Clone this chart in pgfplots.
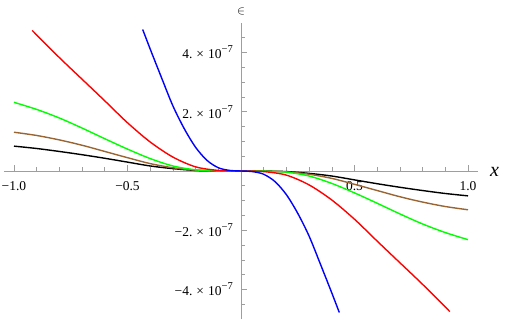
\documentclass[border=0pt]{standalone}
\usepackage{fontspec}
\setmainfont{Liberation Serif}
\usepackage{pgfplots}
\pgfplotsset{compat=1.18}
\definecolor{mbrown}{rgb}{0.6,0.4,0.2}
\definecolor{axgray}{gray}{0.62}
\newcommand{\sci}[1]{#1.\hspace{0.3em}×\hspace{0.3em}10\raisebox{0.45em}{\fontsize{10.5}{12}\selectfont −7}}
\begin{document}
\begin{tikzpicture}
\begin{axis}[
 scale only axis, width=474pt, height=296pt,
 axis lines=middle,
 axis line style={axgray, line width=0.7pt, -},
 xmin=-1.044, xmax=1.044, ymin=-5.0, ymax=5.0,
 xtick={-1,-0.5,0.5,1}, xticklabels={−1.0,−0.5,0.5,1.0},
 minor xtick={-0.9,-0.8,-0.7,-0.6,-0.4,-0.3,-0.2,-0.1,0.1,0.2,0.3,0.4,0.6,0.7,0.8,0.9},
 ytick={-4,-2,2,4},
 yticklabels={\sci{−4},\sci{−2},\sci{2},\sci{4}},
 minor ytick={-4.5,-3.5,-3,-2.5,-1.5,-1,-0.5,0.5,1,1.5,2.5,3,3.5,4.5},
 tick align=inside, major tick length=5.5pt, minor tick length=3.5pt,
 tick style={axgray, line width=0.6pt},
 every tick label/.append style={font=\fontsize{13.5}{15}\selectfont, inner sep=0pt},
 xticklabel style={anchor=north, yshift=-10pt},
 yticklabel style={anchor=east, xshift=-8pt},
 xlabel={\textit{x}},
 xlabel style={font=\fontsize{20}{22}\selectfont, anchor=west, inner sep=0pt, xshift=12pt, yshift=-1pt},
 ylabel={$\in$},
 ylabel style={font=\fontsize{12}{14}\selectfont, anchor=south, inner sep=0pt, yshift=8pt},
 clip=false,
 after end axis/.code={
   \path (rel axis cs:0,0) ++(-4pt,0pt);
   \path (rel axis cs:1,0.5) ++(28pt,0pt);
   \path (rel axis cs:0.5,1) ++(0pt,23pt);
 },
 every axis plot/.append style={line width=1.4pt, smooth, tension=0.5, no marks},
]
% black
\addplot[black] coordinates {(-1,0.84)(-0.9,0.76)(-0.8,0.66)(-0.7,0.55)(-0.6,0.43)(-0.5,0.30)(-0.4,0.17)(-0.3,0.08)(-0.2,0.02)(-0.1,0.003)(0,0)
(0.1,-0.003)(0.2,-0.02)(0.3,-0.08)(0.4,-0.17)(0.5,-0.30)(0.6,-0.43)(0.7,-0.55)(0.8,-0.66)(0.9,-0.76)(1,-0.84)};
% brown
\addplot[mbrown] coordinates {(-1,1.31)(-0.9,1.20)(-0.8,1.05)(-0.7,0.87)(-0.6,0.66)(-0.5,0.45)(-0.4,0.25)(-0.3,0.11)(-0.2,0.03)(-0.1,0.004)(0,0)
(0.1,-0.004)(0.2,-0.03)(0.3,-0.11)(0.4,-0.25)(0.5,-0.45)(0.6,-0.66)(0.7,-0.87)(0.8,-1.05)(0.9,-1.20)(1,-1.31)};
% green
\addplot[green] coordinates {(-1,2.32)(-0.9,2.08)(-0.8,1.79)(-0.7,1.45)(-0.6,1.09)(-0.5,0.74)(-0.4,0.42)(-0.3,0.17)(-0.2,0.04)(-0.1,0.005)(0,0)
(0.1,-0.005)(0.2,-0.04)(0.3,-0.17)(0.4,-0.42)(0.5,-0.74)(0.6,-1.09)(0.7,-1.45)(0.8,-1.79)(0.9,-2.08)(1,-2.32)};
% red
\addplot[red] coordinates {(-0.92,4.75)(-0.8,3.83)(-0.7,3.10)(-0.6,2.37)(-0.5,1.63)(-0.4,0.98)(-0.3,0.47)(-0.2,0.14)(-0.1,0.02)(0,0)
(0.1,-0.02)(0.2,-0.14)(0.3,-0.47)(0.4,-0.98)(0.5,-1.63)(0.6,-2.37)(0.7,-3.10)(0.8,-3.83)(0.92,-4.75)};
% blue
\addplot[blue] coordinates {(-0.433,4.78)(-0.4,4.12)(-0.35,3.15)(-0.3,2.20)(-0.25,1.43)(-0.2,0.80)(-0.15,0.36)(-0.1,0.11)(-0.05,0.02)(0,0)
(0.05,-0.02)(0.1,-0.11)(0.15,-0.36)(0.2,-0.80)(0.25,-1.43)(0.3,-2.20)(0.35,-3.15)(0.4,-4.12)(0.433,-4.78)};
\end{axis}
\end{tikzpicture}
\end{document}
